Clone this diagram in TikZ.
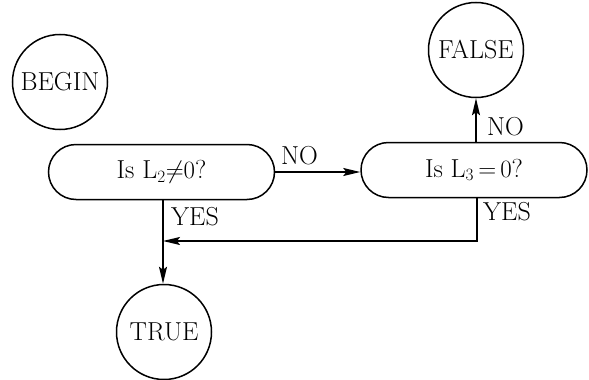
\documentclass[tikz,border=0pt]{standalone}
\usetikzlibrary{shapes.misc,arrows.meta}
\begin{document}
\begin{tikzpicture}[x=1pt,y=-1pt,
  every node/.style={font=\fontsize{26}{31}\selectfont},
  state/.style={draw,circle,line width=1.5pt,minimum size=95pt,inner sep=0pt},
  test/.style={draw,rounded rectangle,line width=1.5pt,minimum width=226pt,minimum height=55pt,inner sep=0pt},
  lbl/.style={anchor=base west,inner sep=0pt},
  conn/.style={line width=1.5pt,-{Stealth[length=17pt,width=8pt,inset=3pt]}}]
\useasboundingbox (0,0) rectangle (589,380);
\node[state] (begin) at (60,82) {BEGIN};
\node[state] (false) at (476,50) {FALSE};
\node[state] (true) at (164,332) {TRUE};
\node[test] (q1) at (161.5,172) {Is L$_2{\neq}0$?};
\node[test] (q2) at (474,170) {Is L$_3\,{=}\,0$?};
\coordinate (c1) at (477,241);
\coordinate (c2) at (163,241);
\draw[conn] (q1.east) -- (q1.east -| q2.west);
\draw[conn] (q2.north -| false.south) -- (false.south);
\draw[conn] (q2.south -| c1) -- (c1) -- (c2);
\draw[conn] (q1.south -| c2) -- (true.north -| c2);
\node[lbl] (no1) at (281,164) {NO};
\node[lbl] (no2) at (487,135) {NO};
\node[lbl] (yes2) at (483,220) {YES};
\node[lbl] (yes1) at (171,225) {YES};
\end{tikzpicture}
\end{document}
